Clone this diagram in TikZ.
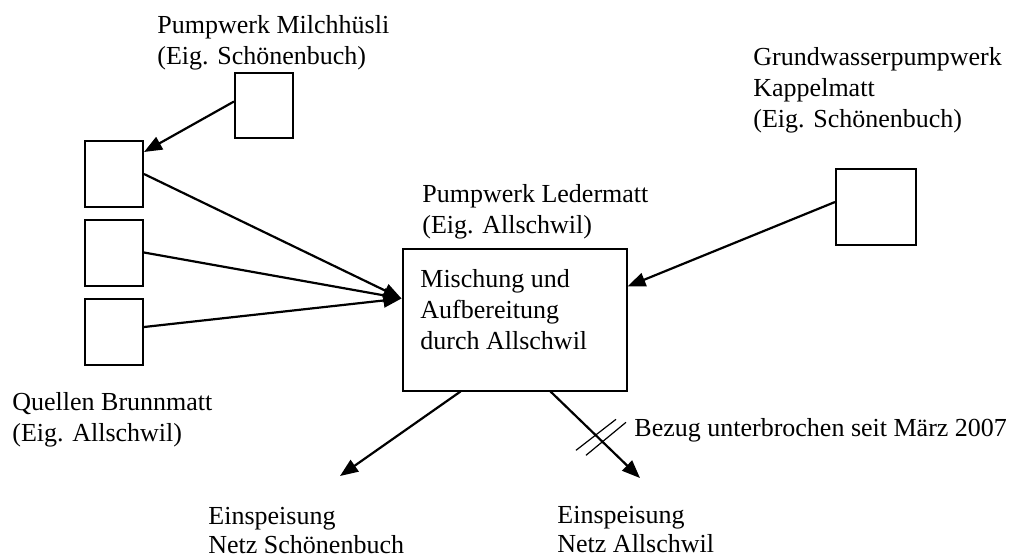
\documentclass[tikz,border=0pt]{standalone}
\usepackage{fontspec}
\setmainfont{Liberation Serif}
\usetikzlibrary{arrows.meta,calc}

\begin{document}
\begin{tikzpicture}[x=0.5pt,y=-0.5pt,
    box/.style={draw,line width=1pt,inner sep=0pt},
    lbl/.style={anchor=base west,inner sep=0pt,align=left,
      font=\fontsize{13}{15.5}\selectfont},
    flow/.style={line width=1.1pt,-{Triangle[length=9pt,width=7pt]}}]
    \useasboundingbox (0,0) rectangle (1016,557);

    % plants and sources
    \node[box,minimum width=29pt,minimum height=32.5pt] (milch) at (264,105.5) {};
    \node[box,minimum width=29pt,minimum height=33pt] (quelleA) at (114,174) {};
    \node[box,minimum width=29pt,minimum height=33pt] (quelleB) at (114,252.5) {};
    \node[box,minimum width=29pt,minimum height=33pt] (quelleC) at (114,332) {};
    \node[box,minimum width=40pt,minimum height=38pt] (kappel) at (876,207) {};
    \node[box,minimum width=112pt,minimum height=71pt] (mix) at (514.5,319.5) {};

    % labels (placed at the baseline of their last line)
    \node[lbl] (milchlbl) at (157,64) {Pumpwerk Milchhüsli\\(Eig. Schönenbuch)};
    \node[lbl] (quellelbl) at (12,441) {Quellen Brunnmatt\\(Eig. Allschwil)};
    \node[lbl] (kappellbl) at (753,127) {Grundwasserpumpwerk\\Kappelmatt\\(Eig. Schönenbuch)};
    \node[lbl] (mixlbl) at (422,233) {Pumpwerk Ledermatt\\(Eig. Allschwil)};
    \node[lbl] (mixtext) at (420,349) {Mischung und\\Aufbereitung\\durch Allschwil};
    \node[lbl,font=\fontsize{13}{14.25}\selectfont] (netzS) at (208,553) {Einspeisung\\Netz Schönenbuch};
    \node[lbl,font=\fontsize{13}{14.25}\selectfont] (netzA) at (557,552) {Einspeisung\\Netz Allschwil};
    \node[lbl] (bezug) at (634,436) {Bezug unterbrochen seit März 2007};

    % flows
    \coordinate (mixin) at ($(mix.west)+(0,-21)$);
    \coordinate (endS) at (340,476);
    \coordinate (endA) at (640,478);
    \draw[flow] ($(milch.west)+(0,-4)$) -- ($(quelleA.east)+(0,-22)$);
    \draw[flow] (quelleA.east) -- (mixin);
    \draw[flow] (quelleB.east) -- (mixin);
    \draw[flow] ($(quelleC.east)+(0,-5)$) -- (mixin);
    \draw[flow] ($(kappel.west)+(0,-5)$) -- ($(mix.east)+(0,-33)$);
    \draw[flow] ($(mix.south)+(-54,0)$) -- (endS);
    \draw[flow] ($(mix.south)+(36,0)$) coordinate (startA) -- (endA);

    % interrupted supply
    \coordinate (cut) at ($(startA)!0.53!(endA)$);
    \draw[line width=0.6pt] ($(cut)+(-22,13)$) -- ($(cut)+(18,-18)$);
    \draw[line width=0.6pt] ($(cut)+(-12,18)$) -- ($(cut)+(28,-15)$);
\end{tikzpicture}
\end{document}
